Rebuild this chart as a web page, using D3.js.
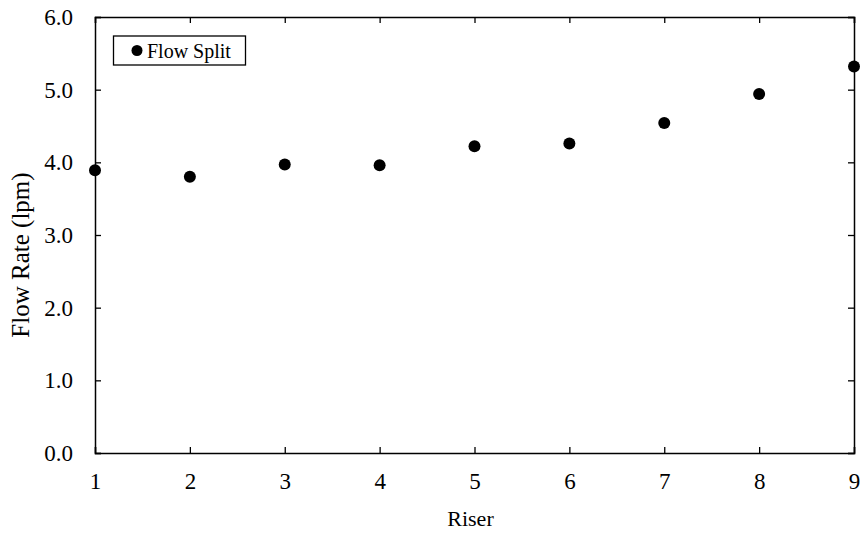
<!DOCTYPE html>
<html>
<head>
<meta charset="utf-8">
<script src="https://cdn.jsdelivr.net/npm/d3@7"></script>
<style>
  body { margin: 0; background: #fff; }
  svg text { font-family: "Liberation Serif", "Times New Roman", serif; fill: #000; }
</style>
</head>
<body>
<div id="chart"></div>
<script>
// chart data
const risers = [1, 2, 3, 4, 5, 6, 7, 8, 9];
const flowRates = [3.89, 3.80, 3.97, 3.96, 4.22, 4.26, 4.54, 4.94, 5.32];
const yTicks = [0, 1, 2, 3, 4, 5, 6];
const seriesName = 'Flow Split';

const width = 860;
const height = 533;
const margin = {top: 17, right: 6, bottom: 80, left: 95};
const innerW = width - margin.left - margin.right;
const innerH = height - margin.top - margin.bottom;

const svg = d3.select('#chart')
    .append('svg')
    .attr('width', width)
    .attr('height', height);

const g = svg.append('g')
    .attr('transform', `translate(${margin.left}, ${margin.top})`);

const x = d3.scaleLinear().domain([1, 9]).range([0, innerW]);
const y = d3.scaleLinear().domain([0, 6]).range([innerH, 0]);

// axes, ticks pointing inward, mirrored on top/right
const tickLen = 6;
const bottomAxis = g.append('g')
    .attr('transform', `translate(0, ${innerH})`)
    .call(d3.axisBottom(x).tickValues(risers).tickSize(-tickLen).tickPadding(20).tickFormat(d3.format('d')));
const leftAxis = g.append('g')
    .call(d3.axisLeft(y).tickValues(yTicks).tickSize(-tickLen).tickPadding(22).tickFormat(d3.format('.1f')));
const topAxis = g.append('g')
    .call(d3.axisTop(x).tickValues(risers).tickSize(-tickLen).tickFormat(''));
const rightAxis = g.append('g')
    .attr('transform', `translate(${innerW}, 0)`)
    .call(d3.axisRight(y).tickValues(yTicks).tickSize(-tickLen).tickFormat(''));

[bottomAxis, leftAxis, topAxis, rightAxis].forEach(a => {
    a.attr('font-size', null).attr('font-family', null);
    a.select('.domain').attr('stroke', '#000').attr('stroke-width', 1.5);
    a.selectAll('.tick line').attr('stroke', '#000').attr('stroke-width', 1.3);
    a.selectAll('.tick text').attr('font-size', 23).style('font-size', '23px');
});

// points
g.append('g')
    .selectAll('circle')
    .data(risers)
    .enter()
    .append('circle')
    .attr('cx', (d, i) => x(d))
    .attr('cy', (d, i) => y(flowRates[i]))
    .attr('r', 6)
    .attr('fill', '#000');

// axis titles
svg.append('text')
    .attr('x', margin.left + innerW / 2 - 4)
    .attr('y', 526)
    .style('text-anchor', 'middle')
    .style('font-size', '22px')
    .text('Riser');

svg.append('text')
    .attr('transform', `translate(29, ${margin.top + innerH / 2 + 20}) rotate(-90)`)
    .style('text-anchor', 'middle')
    .style('font-size', '25px')
    .text('Flow Rate (lpm)');

// legend
const legend = svg.append('g');
legend.append('rect')
    .attr('x', 113.5)
    .attr('y', 36)
    .attr('width', 132)
    .attr('height', 29)
    .attr('fill', '#fff')
    .attr('stroke', '#000')
    .attr('stroke-width', 1.3);
legend.append('circle')
    .attr('cx', 137)
    .attr('cy', 50.5)
    .attr('r', 5.5)
    .attr('fill', '#000');
legend.append('text')
    .attr('x', 147)
    .attr('y', 57.5)
    .style('font-size', '20px')
    .text(seriesName);
</script>
</body>
</html>
